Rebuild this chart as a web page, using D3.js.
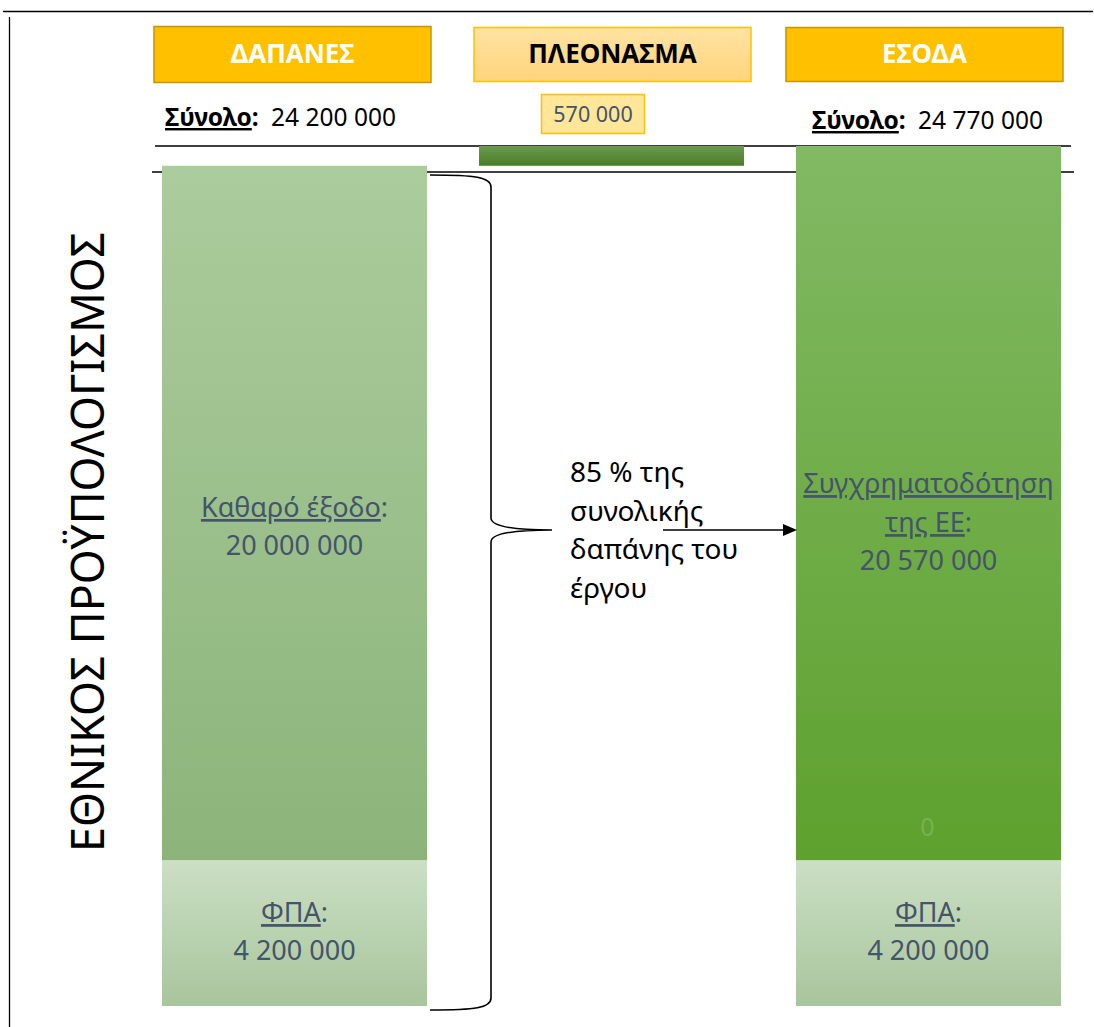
<!DOCTYPE html>
<html>
<head>
<meta charset="utf-8">
<script src="https://cdn.jsdelivr.net/npm/d3@7"></script>
<style>
  html, body { margin: 0; padding: 0; background: #ffffff; }
  svg { display: block; }
  text { font-family: "Noto Sans", "Open Sans", sans-serif; }
</style>
</head>
<body>
<svg id="chart" width="1094" height="1027"></svg>
<script>
// ---------------- DATA ----------------
const categories = ["ΔΑΠΑΝΕΣ", "ΠΛΕΟΝΑΣΜΑ", "ΕΣΟΔΑ"];
const expenseNames = ["ΦΠΑ", "Καθαρό έξοδο"];
const expenseValues = [4200000, 20000000];
const revenueNames = ["ΦΠΑ", "Συγχρηματοδότηση της ΕΕ", "Λοιπά"];
const revenueValues = [4200000, 20570000, 0];
const surplusValue = 570000;
const totalLabel = "Σύνολο";
const totals = [24200000, 24770000];
const titleText = "ΕΘΝΙΚΟΣ ΠΡΟΫΠΟΛΟΓΙΣΜΟΣ";
const noteLines = ["85 % της", "συνολικής", "δαπάνης του", "έργου"];

// ---------------- SETUP ----------------
const svg = d3.select("#chart");
const fmt = d3.formatLocale({ decimal: ",", thousands: " ", grouping: [3], currency: ["", "€"] }).format(",d");

const totalMax = d3.sum(revenueValues);
const y = d3.scaleLinear().domain([0, totalMax]).range([1006, 146]);
const x = d3.scaleBand().domain(categories).range([162, 1061]).paddingInner(0.164).paddingOuter(0);
const bw = x.bandwidth();
const xh = d3.scaleBand().domain(categories).range([154, 1063]).paddingInner(0.1234).paddingOuter(0);

const defs = svg.append("defs");
function grad(id, c1, c2) {
  const g = defs.append("linearGradient").attr("id", id).attr("x1", 0).attr("y1", 0).attr("x2", 0).attr("y2", 1);
  g.append("stop").attr("offset", "0%").attr("stop-color", c1);
  g.append("stop").attr("offset", "100%").attr("stop-color", c2);
}
grad("gNet", "#abcc9d", "#8cb47a");
grad("gVat", "#cbdfc4", "#a8c59c");
grad("gEE", "#82b964", "#5ea12e");
grad("gSur", "#6b9a50", "#4a7d26");
grad("gHead2", "#ffe3a3", "#ffd47c");

const textColor = "#44546a";

// frame lines
svg.append("line").attr("x1", 3).attr("x2", 1093).attr("y1", 11.5).attr("y2", 11.5).attr("stroke", "#000").attr("stroke-width", 1.3);
svg.append("line").attr("x1", 9.5).attr("x2", 9.5).attr("y1", 17).attr("y2", 1027).attr("stroke", "#000").attr("stroke-width", 1.3);

// horizontal rules
svg.append("line").attr("x1", 155).attr("x2", 1071).attr("y1", 146).attr("y2", 146).attr("stroke", "#000").attr("stroke-width", 1.3);
svg.append("line").attr("x1", 152).attr("x2", 1074).attr("y1", 172).attr("y2", 172).attr("stroke", "#000").attr("stroke-width", 1.3);

// ---------------- HEADERS ----------------
const headStyles = [
  { fill: "#ffc000", stroke: "#c79500", color: "#ffffff" },
  { fill: "url(#gHead2)", stroke: "#ffc000", color: "#000000" },
  { fill: "#ffc000", stroke: "#c79500", color: "#ffffff" }
];
categories.forEach((c, i) => {
  const x0 = xh(c) + (i === 1 ? 4 : 0);
  const cx = x0 + xh.bandwidth() / 2;
  const top = i === 0 ? 26.5 : 27.5;
  const h = i === 0 ? 56 : 54;
  svg.append("rect").attr("x", x0).attr("y", top).attr("width", xh.bandwidth()).attr("height", h)
    .attr("fill", headStyles[i].fill).attr("stroke", headStyles[i].stroke).attr("stroke-width", 1.5);
  svg.append("text").attr("x", cx).attr("y", 63).attr("text-anchor", "middle")
    .attr("font-size", 26).attr("font-weight", "bold").attr("fill", headStyles[i].color).text(c);
});

// totals
function totalText(xPos, yPos, value) {
  const t = svg.append("text").attr("x", xPos).attr("y", yPos).attr("font-size", 24.5).attr("fill", "#000");
  t.append("tspan").attr("font-weight", "bold").style("text-decoration", "underline").text(totalLabel);
  t.append("tspan").attr("font-weight", "bold").text(":");
  t.append("tspan").attr("dx", 6).text(" " + fmt(value));
}
totalText(165, 126, totals[0]);
totalText(812, 129, totals[1]);

// surplus value box
const sx = x(categories[1]) + bw / 2;
svg.append("rect").attr("x", sx - 70).attr("y", 94.5).attr("width", 103).attr("height", 39)
  .attr("fill", "#ffe699").attr("stroke", "#ffc000").attr("stroke-width", 1.5);
svg.append("text").attr("x", sx - 18.5).attr("y", 122).attr("text-anchor", "middle")
  .attr("font-size", 21.5).attr("fill", textColor).text(fmt(surplusValue));

// ---------------- BARS ----------------
function stackSegments(values) {
  let acc = 0;
  return values.map(v => { const s = { y0: acc, y1: acc + v }; acc += v; return s; });
}
const expSeg = stackSegments(expenseValues);
const revSeg = stackSegments(revenueValues);
const expFills = ["url(#gVat)", "url(#gNet)"];
const revFills = ["url(#gVat)", "url(#gEE)", "url(#gEE)"];

svg.append("g").selectAll("rect").data(expSeg).join("rect")
  .attr("x", x(categories[0])).attr("width", bw)
  .attr("y", d => y(d.y1)).attr("height", d => y(d.y0) - y(d.y1))
  .attr("fill", (d, i) => expFills[i]);

svg.append("g").selectAll("rect").data(revSeg.filter((d, i) => revenueValues[i] > 0)).join("rect")
  .attr("x", x(categories[2])).attr("width", bw)
  .attr("y", d => y(d.y1)).attr("height", d => y(d.y0) - y(d.y1))
  .attr("fill", (d, i) => revFills[i]);

// surplus floating bar
svg.append("rect").attr("x", x(categories[1])).attr("width", bw)
  .attr("y", y(totals[1])).attr("height", y(totals[0]) - y(totals[1]))
  .attr("fill", "url(#gSur)");

// ---------------- BAR LABELS ----------------
function segLabel(cx, mid, lines) {
  lines.forEach(l => {
    const t = svg.append("text").attr("x", cx).attr("y", mid + l.dy).attr("text-anchor", "middle")
      .attr("font-size", 27).attr("fill", textColor);
    l.parts.forEach(p => {
      const ts = t.append("tspan").text(p.t);
      if (p.u) ts.style("text-decoration", "underline");
    });
  });
}
const lx = x(categories[0]) + bw / 2;
const rx = x(categories[2]) + bw / 2;
const midOf = s => (y(s.y0) + y(s.y1)) / 2;

segLabel(lx, midOf(expSeg[1]), [
  { parts: [{ t: expenseNames[1], u: true }, { t: ":" }], dy: 4 },
  { parts: [{ t: fmt(expenseValues[1]) }], dy: 42 }
]);
segLabel(lx, midOf(expSeg[0]), [
  { parts: [{ t: expenseNames[0], u: true }, { t: ":" }], dy: -11 },
  { parts: [{ t: fmt(expenseValues[0]) }], dy: 27 }
]);
segLabel(rx, midOf(revSeg[0]), [
  { parts: [{ t: revenueNames[0], u: true }, { t: ":" }], dy: -11 },
  { parts: [{ t: fmt(revenueValues[0]) }], dy: 27 }
]);
const eeWords = revenueNames[1].split(" ");
segLabel(rx, midOf(revSeg[1]), [
  { parts: [{ t: eeWords[0], u: true }], dy: -10 },
  { parts: [{ t: eeWords.slice(1).join(" "), u: true }, { t: ":" }], dy: 29 },
  { parts: [{ t: fmt(revenueValues[1]) }], dy: 67 }
]);
// zero value label (faint)
svg.append("text").attr("x", rx - 1).attr("y", y(revSeg[1].y0) - 24).attr("text-anchor", "middle")
  .attr("font-size", 25).attr("fill", "#77b24f").text(fmt(revenueValues[2]));

// ---------------- BRACE + ARROW + NOTE ----------------
const bTop = 175, bBot = 1010, bMid = 530, bx0 = 430, bx1 = 491, tip = 552;
const brace = `M${bx0},${bTop} C${bx0 + 45},${bTop} ${bx1},${bTop + 2} ${bx1},${bTop + 12}
  L${bx1},${bMid - 12} C${bx1},${bMid - 4} ${bx1 + 20},${bMid} ${tip},${bMid}
  C${bx1 + 20},${bMid} ${bx1},${bMid + 4} ${bx1},${bMid + 12}
  L${bx1},${bBot - 12} C${bx1},${bBot - 2} ${bx0 + 45},${bBot} ${bx0},${bBot}`;
svg.append("path").attr("d", brace).attr("fill", "none").attr("stroke", "#000").attr("stroke-width", 1.6);

const note = svg.append("g");
noteLines.forEach((l, i) => {
  note.append("text").attr("x", 570).attr("y", 482 + i * 38.5).attr("font-size", 28).attr("fill", "#000").text(l);
});

svg.append("line").attr("x1", 663).attr("x2", 784).attr("y1", bMid).attr("y2", bMid).attr("stroke", "#000").attr("stroke-width", 1.6);
svg.append("path").attr("d", `M783,${bMid - 6} L797,${bMid} L783,${bMid + 6} Z`).attr("fill", "#000");

// ---------------- VERTICAL TITLE ----------------
svg.append("text")
  .attr("transform", `translate(104,${(232 + 852) / 2}) rotate(-90)`)
  .attr("text-anchor", "middle")
  .attr("font-family", "DejaVu Sans, sans-serif")
  .attr("font-size", 46)
  .attr("textLength", 620).attr("lengthAdjust", "spacingAndGlyphs")
  .attr("fill", "#000").text(titleText);
</script>
</body>
</html>
